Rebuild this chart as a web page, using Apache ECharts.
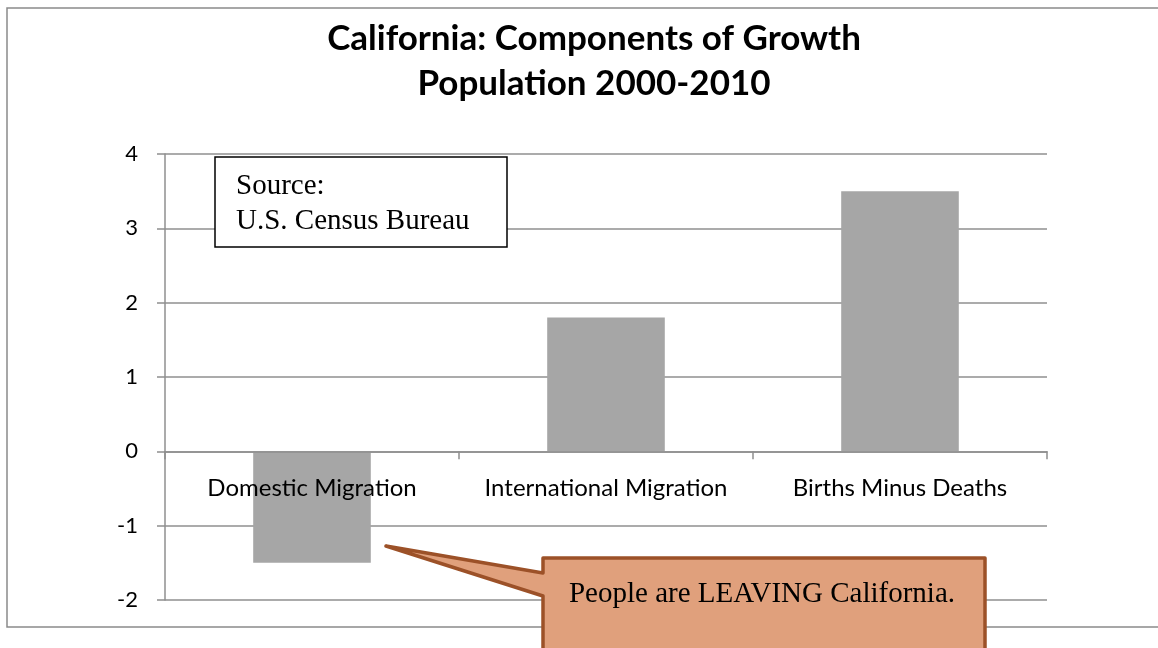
<!DOCTYPE html>
<html>
<head>
<meta charset="utf-8">
<script src="https://cdn.jsdelivr.net/npm/echarts@6/dist/echarts.min.js"></script>
<style>
  html, body { margin: 0; padding: 0; background: #fff; }
  #chart { width: 1158px; height: 648px; }
</style>
</head>
<body>
<div id="chart"></div>
<script>
// Components of California's population change, 2000-2010 (millions)
const categories = ['Domestic Migration', 'International Migration', 'Births Minus Deaths'];
const growth = [-1.5, 1.8, 3.5];
const yTicks = { min: -2, max: 4, step: 1 };
const titleLines = ['California: Components of Growth', 'Population 2000-2010'];
const sourceLines = ['Source:', 'U.S. Census Bureau'];
const calloutText = 'People are LEAVING California.';

const chart = echarts.init(document.getElementById('chart'), null, { renderer: 'canvas' });

const gridColor = '#8f8f8f';
const serif = '"Liberation Serif", "Times New Roman", serif';
const sans = 'Lato, "Open Sans", sans-serif';

chart.setOption({
  animation: false,
  backgroundColor: '#ffffff',
  title: {
    text: titleLines.join('\n'),
    left: 589,
    top: 11,
    textAlign: 'center',
    textStyle: { fontFamily: sans, fontWeight: 'bold', fontSize: 35, color: '#000', lineHeight: 45 }
  },
  grid: { left: 165, right: 111, top: 154, bottom: 48 },
  xAxis: {
    type: 'category',
    data: categories,
    z: 5,
    axisLine: { onZero: true, lineStyle: { color: gridColor, width: 1.5 } },
    axisTick: { show: true, length: 8, alignWithLabel: false, lineStyle: { color: gridColor, width: 1.5 } },
    axisLabel: { show: false }
  },
  yAxis: {
    type: 'value',
    min: yTicks.min,
    max: yTicks.max,
    interval: yTicks.step,
    axisLine: { show: true, lineStyle: { color: gridColor, width: 1.5 } },
    axisTick: { show: true, length: 8, lineStyle: { color: gridColor, width: 1.5 } },
    axisLabel: { margin: 27, fontFamily: sans, fontSize: 22, color: '#000' },
    splitLine: { show: true, lineStyle: { color: gridColor, width: 1.5 } }
  },
  series: [
    {
      type: 'bar',
      data: growth,
      barWidth: '40%',
      itemStyle: { color: '#a6a6a6' }
    },
    {
      // category names sit just under the zero line, drawn over the bars
      type: 'scatter',
      z: 6,
      symbolSize: 0,
      silent: true,
      itemStyle: { opacity: 1 },
      data: categories.map(c => [c, 0]),
      label: {
        show: true,
        position: 'bottom',
        distance: 25,
        formatter: p => p.value[0],
        fontFamily: sans,
        fontSize: 24,
        color: '#000',
        opacity: 1
      }
    }
  ],
  graphic: [
    // chart area frame
    {
      type: 'rect', z: -1, silent: true,
      shape: { x: 7, y: 8, width: 1180, height: 619 },
      style: { fill: null, stroke: '#8a8a8a', lineWidth: 1.5 }
    },
    // source note
    {
      type: 'rect', z: 100,
      shape: { x: 215, y: 157, width: 292, height: 90 },
      style: { fill: '#ffffff', stroke: '#000000', lineWidth: 1.5 }
    },
    {
      type: 'text', z: 101, left: 236, top: 169,
      style: { text: sourceLines.join('\n'), font: '29px ' + serif, lineHeight: 35, fill: '#000' }
    },
    // speech-bubble callout pointing at the domestic migration bar
    {
      type: 'polygon', z: 100,
      shape: {
        points: [
          [543, 558], [985, 558], [985, 660], [543, 660],
          [543, 596], [386, 546], [543, 573]
        ]
      },
      style: { fill: '#e0a07c', stroke: '#9c5128', lineWidth: 3.5, lineJoin: 'round' }
    },
    {
      type: 'text', z: 101, x: 762, y: 594,
      style: { text: calloutText, font: '29px ' + serif, fill: '#000', align: 'center', verticalAlign: 'middle' }
    }
  ]
});
</script>
</body>
</html>
